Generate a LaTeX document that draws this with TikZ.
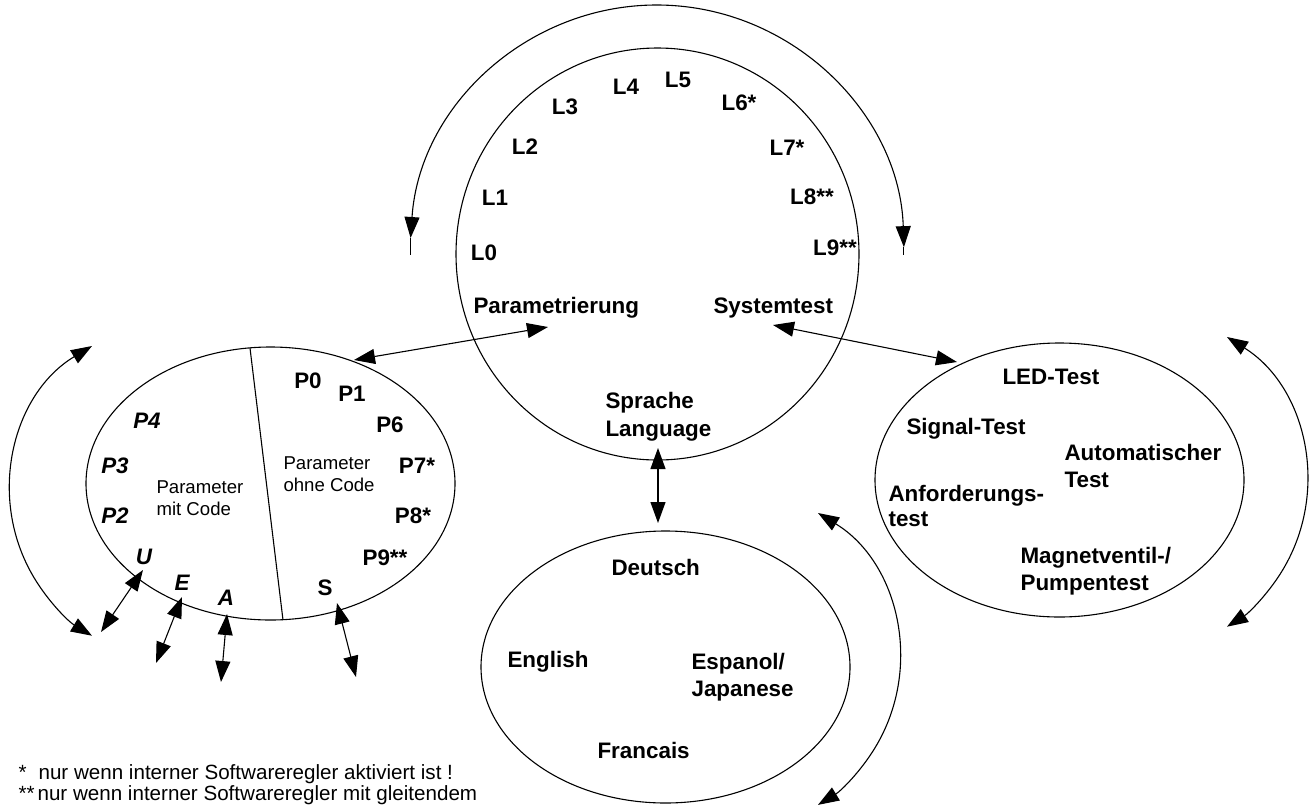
\documentclass[tikz,border=0pt]{standalone}
\usepackage{fontspec}
\setmainfont{Liberation Sans}
\usetikzlibrary{shapes.geometric,arrows.meta}
\begin{document}
\begin{tikzpicture}[x=1pt,y=-1pt,
  line width=1.1pt,
  >={Triangle[length=21pt,width=15pt]},
  oval/.style={ellipse,draw,inner sep=0pt,outer sep=0pt},
  lab/.style={font=\fontsize{22.4}{26}\selectfont\bfseries,inner sep=0pt,anchor=base},
  labw/.style={lab,anchor=base west},
  ilab/.style={font=\fontsize{22.4}{26}\selectfont\bfseries\itshape,inner sep=0pt,anchor=base},
  small/.style={font=\fontsize{18.6}{22}\selectfont,inner sep=0pt,anchor=base west},
  note/.style={font=\fontsize{20.6}{24}\selectfont,inner sep=0pt,anchor=base west}]
\useasboundingbox (0,0) rectangle (1310,807);

% ---- ellipses
\node[oval,minimum width=403pt,minimum height=412pt] (main) at (657.5,254) {};
\node[oval,minimum width=369pt,minimum height=273pt] (para) at (270.5,483.5) {};
\node[oval,minimum width=369pt,minimum height=274pt] (test) at (1059.5,480) {};
\node[oval,minimum width=369pt,minimum height=272pt] (lang) at (665.5,667) {};

% divider in parameter ellipse
\coordinate (d1) at (250,348);
\coordinate (d2) at (283,620);
\draw (d1) -- (d2);

% ---- main circle labels
\node[lab] (l0) at (484,260) {L0};
\node[lab] (l1) at (495,205) {L1};
\node[lab] (l2) at (525,154) {L2};
\node[lab] (l3) at (565,114) {L3};
\node[lab] (l4) at (626,94) {L4};
\node[lab] (l5) at (678,87) {L5};
\node[lab] (l6) at (739,110) {L6*};
\node[lab] (l7) at (787,155) {L7*};
\node[lab] (l8) at (812,204) {L8**};
\node[lab] (l9) at (835,255) {L9**};
\node[labw] (parm) at (473,313) {Parametrierung};
\node[labw] (syst) at (713,313) {Systemtest};
\node[labw] (spr1) at (605,408) {Sprache};
\node[labw] (spr2) at (605,436) {Language};

% ---- parameter ellipse labels
\node[lab] (p0) at (308,388) {P0};
\node[lab] (p1) at (352,401) {P1};
\node[lab] (p6) at (390,432) {P6};
\node[lab] (p7) at (417,473) {P7*};
\node[lab] (p8) at (413,523) {P8*};
\node[lab] (p9) at (385,565) {P9**};
\node[lab] (ps) at (325,595) {S};
\node[ilab] (p4) at (147,428) {P4};
\node[ilab] (p3) at (115,473) {P3};
\node[ilab] (p2) at (115,523) {P2};
\node[ilab] (pu) at (144,564) {U};
\node[ilab] (pe) at (182,590) {E};
\node[ilab] (pa) at (226,605) {A};
\node[small] (po1) at (283,469) {Parameter};
\node[small] (po2) at (283,491) {ohne Code};
\node[small] (pm1) at (156,493) {Parameter};
\node[small] (pm2) at (156,515) {mit Code};

% ---- test ellipse labels
\node[labw] (t1) at (1002,384) {LED-Test};
\node[labw] (t2) at (906,434) {Signal-Test};
\node[labw] (t3a) at (1064,460) {Automatischer};
\node[labw] (t3b) at (1064,487) {Test};
\node[labw] (t4a) at (888,501) {Anforderungs-};
\node[labw] (t4b) at (888,526) {test};
\node[labw] (t5a) at (1020,563) {Magnetventil-/};
\node[labw] (t5b) at (1020,590) {Pumpentest};

% ---- language ellipse labels
\node[labw] (g1) at (611,575) {Deutsch};
\node[labw] (g2) at (507,667) {English};
\node[labw] (g3a) at (691,669) {Espanol/};
\node[labw] (g3b) at (691,696) {Japanese};
\node[labw] (g4) at (597,758) {Francais};

% ---- footnotes
\node[note] (n1a) at (18,779) {*};
\node[note] (n1b) at (38,779) {nur wenn interner Softwareregler aktiviert ist !};
\node[note] (n2a) at (18,800) {**};
\node[note] (n2b) at (37,800) {nur wenn interner Softwareregler mit gleitendem};

% ---- straight connectors
\coordinate (c1a) at (354,360);  \coordinate (c1b) at (548,327);
\draw[<->] (c1a) -- (c1b);
\coordinate (c2a) at (773,325);  \coordinate (c2b) at (957,362);
\draw[<->] (c2a) -- (c2b);
\coordinate (c3a) at (658,448);  \coordinate (c3b) at (658,523);
\draw[<->] (c3a) -- (c3b);
\coordinate (cua) at (143,570);  \coordinate (cub) at (101,632);
\draw[<->] (cua) -- (cub);
\coordinate (cea) at (182,597);  \coordinate (ceb) at (156,663);
\draw[<->] (cea) -- (ceb);
\coordinate (caa) at (227,614);  \coordinate (cab) at (221,682);
\draw[<->] (caa) -- (cab);
\coordinate (csa) at (337,603);  \coordinate (csb) at (356,677);
\draw[<->] (csa) -- (csb);

% ---- curved connectors
\coordinate (ta) at (410.6,238);
\coordinate (tae) at (410.6,255);
\coordinate (tb) at (903.9,247);
\coordinate (tbe) at (903.9,255);
\draw[<->] (ta) arc[start angle=176.1, end angle=1.8, x radius=247pt, y radius=250pt];
\draw (ta) -- (tae);
\draw (tb) -- (tbe);

\coordinate (la) at (92,346);
\draw[<->] (la) arc[start angle=121, end angle=239, radius=169pt];

\coordinate (ra) at (1227,337);
\draw[<->] (ra) arc[start angle=57.9, end angle=-57.9, radius=171pt];

\coordinate (ba) at (818,513);
\draw[<->] (ba) arc[start angle=58.6, end angle=-58.6, radius=171pt];
\end{tikzpicture}
\end{document}
